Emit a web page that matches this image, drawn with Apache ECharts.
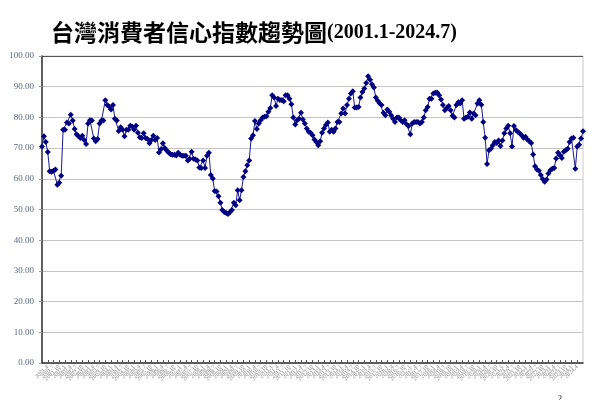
<!DOCTYPE html>
<html>
<head>
<meta charset="utf-8">
<script src="https://cdn.jsdelivr.net/npm/echarts@6/dist/echarts.min.js"></script>
<style>html,body{margin:0;padding:0;background:#fff}#c{width:600px;height:400px}</style>
</head>
<body>
<div id="c"></div>
<script>
// Monthly consumer confidence index values, per year
const y2001 = [70.5, 73.9, 72, 68.7, 62.5, 62.3, 62.6, 63, 58.1, 58.7, 61, 76];
const y2002 = [76, 78.3, 78, 80.9, 79, 76.2, 74.5, 73.9, 73.3, 74, 72.6, 71.3];
const y2003 = [78, 79.1, 79, 73.1, 72.2, 73, 78, 79, 79, 85.6, 84, 83.5];
const y2004 = [82.6, 84, 79.6, 79, 75.6, 76.8, 76, 73.9, 76, 76, 77.3, 77];
const y2005 = [76, 77.3, 75, 73.5, 73.3, 74.8, 73.3, 73, 71.6, 72.6, 74, 72.6];
const y2006 = [73.3, 68.6, 69.6, 71.6, 70, 69.2, 68.6, 68, 67.8, 67.8, 67.6, 68.5];
const y2007 = [67.8, 67.5, 67.5, 67.5, 66, 66.5, 68.8, 66.5, 66.3, 66, 63.7, 63.5];
const y2008 = [66, 63.5, 67.5, 68.5, 61.2, 60.1, 56, 55.9, 54.3, 52.2, 49.8, 49.2];
const y2009 = [48.9, 48.5, 49.2, 49.8, 52.2, 51.4, 56.3, 53, 56.3, 60.6, 62.5, 64.4];
const y2010 = [66, 73.1, 74.2, 78.8, 76.2, 78, 79.1, 80, 80.2, 80.4, 81.8, 83.1];
const y2011 = [87.2, 86.5, 83.7, 86.1, 85.7, 85.7, 85.3, 87.2, 87.2, 86.1, 84.3, 80];
const y2012 = [77.7, 79.1, 79.6, 81.5, 79.3, 78, 76.4, 75.3, 75, 74.2, 72.8, 72];
const y2013 = [70.9, 72.2, 75, 76.4, 77.5, 78.3, 75.3, 76, 75.3, 76.4, 78.5, 78.5];
const y2014 = [81.3, 82.9, 81.3, 84, 86.1, 87.8, 88.5, 83.2, 83.2, 83.4, 86.5, 88.3];
const y2015 = [89.4, 91.2, 93.4, 92.3, 90.8, 89.7, 86.5, 85.4, 84.6, 84, 81.5, 80.7];
const y2016 = [82.6, 81.8, 80.7, 79.6, 78.5, 80, 80, 79.1, 78.5, 79.1, 77.8, 77.2];
const y2017 = [74.5, 78, 78.5, 78.5, 78.5, 78, 78.5, 80, 82.3, 83.4, 86.1, 86.1];
const y2018 = [87.8, 88, 88.1, 87.2, 85.8, 84, 82.3, 83.1, 83.7, 82.3, 80.5, 80];
const y2019 = [84, 84.9, 84.5, 85.6, 79.6, 80, 80.2, 81.6, 79.6, 81.3, 80.7, 84.5];
const y2020 = [85.6, 84.1, 78.5, 73.4, 64.8, 69.3, 69.8, 70.9, 72, 71.7, 72.5, 70.7];
const y2021 = [72.5, 74.8, 76.4, 77.3, 74.8, 70.5, 77.2, 75.9, 75.3, 74.8, 74.2, 73.4];
const y2022 = [73.7, 72.8, 72.2, 71.7, 67.9, 64.1, 63, 62.6, 61.2, 59.9, 59, 59.8];
const y2023 = [61.7, 62.8, 63.3, 63.5, 66.6, 68.5, 67.7, 66.8, 68.8, 69.3, 69.8, 72];
const y2024 = [73.1, 73.4, 63.3, 70.5, 71.1, 73.1, 75.5];

const yearStart = 2001;
const yearly = [y2001, y2002, y2003, y2004, y2005, y2006, y2007, y2008, y2009, y2010, y2011, y2012,
  y2013, y2014, y2015, y2016, y2017, y2018, y2019, y2020, y2021, y2022, y2023, y2024];
const yTicks = [0, 10, 20, 30, 40, 50, 60, 70, 80, 90, 100];

const categories = [];
const values = [];
yearly.forEach((arr, k) => {
  arr.forEach((v, m) => {
    categories.push((yearStart + k) + '.' + (m + 1));
    values.push(v);
  });
});

const chart = echarts.init(document.getElementById('c'), null, {renderer: 'canvas'});
chart.setOption({
  animation: false,
  backgroundColor: '#fff',
  title: {
    left: 46,
    top: 16,
    text: '{a|台灣消費者信心指數趨勢圖}{b|(2001.1-2024.7)}',
    textStyle: {
      rich: {
        a: {fontFamily: 'Noto Sans CJK TC', fontWeight: 'bold', fontSize: 23, color: '#000'},
        b: {fontFamily: 'Liberation Serif', fontWeight: 'bold', fontSize: 20, color: '#000'}
      }
    }
  },
  grid: {left: 42, right: 17, top: 56, bottom: 37, show: true, borderColor: '#c8c8c8', borderWidth: 1},
  xAxis: {
    type: 'category',
    data: categories,
    boundaryGap: false,
    axisLine: {lineStyle: {color: '#333', width: 1.5}},
    axisTick: {show: true, inside: true, length: 3, interval: 2, lineStyle: {color: '#555'}},
    axisLabel: {
      interval: 2, rotate: 45, fontSize: 6, color: '#888',
      fontFamily: 'Liberation Serif', margin: 3
    },
    splitLine: {show: false}
  },
  yAxis: {
    type: 'value',
    min: yTicks[0],
    max: yTicks[yTicks.length - 1],
    interval: 10,
    axisLine: {show: true, lineStyle: {color: '#333', width: 1.5}},
    axisTick: {show: true, length: 3, lineStyle: {color: '#999'}},
    axisLabel: {
      formatter: v => v.toFixed(2), fontSize: 9, color: '#5a6680',
      fontFamily: 'Liberation Serif', margin: 8
    },
    splitLine: {
      show: true,
      lineStyle: {color: ['#c4c4c4','#c4c4c4','#c4c4c4','#c4c4c4','#c4c4c4','#c4c4c4','#c4c4c4','#c4c4c4','#c4c4c4','#c4c4c4','#555'], width: 1.2}
    }
  },
  series: [{
    type: 'line',
    data: values,
    symbol: 'diamond',
    symbolSize: 6,
    showAllSymbol: true,
    lineStyle: {color: '#1a1a8c', width: 1},
    itemStyle: {color: '#000080'}
  }],
  graphic: [{
    type: 'text', left: 558, top: 395,
    style: {text: '2', fontSize: 8, fill: '#000', fontFamily: 'Liberation Serif'}
  }]
});
</script>
</body>
</html>
